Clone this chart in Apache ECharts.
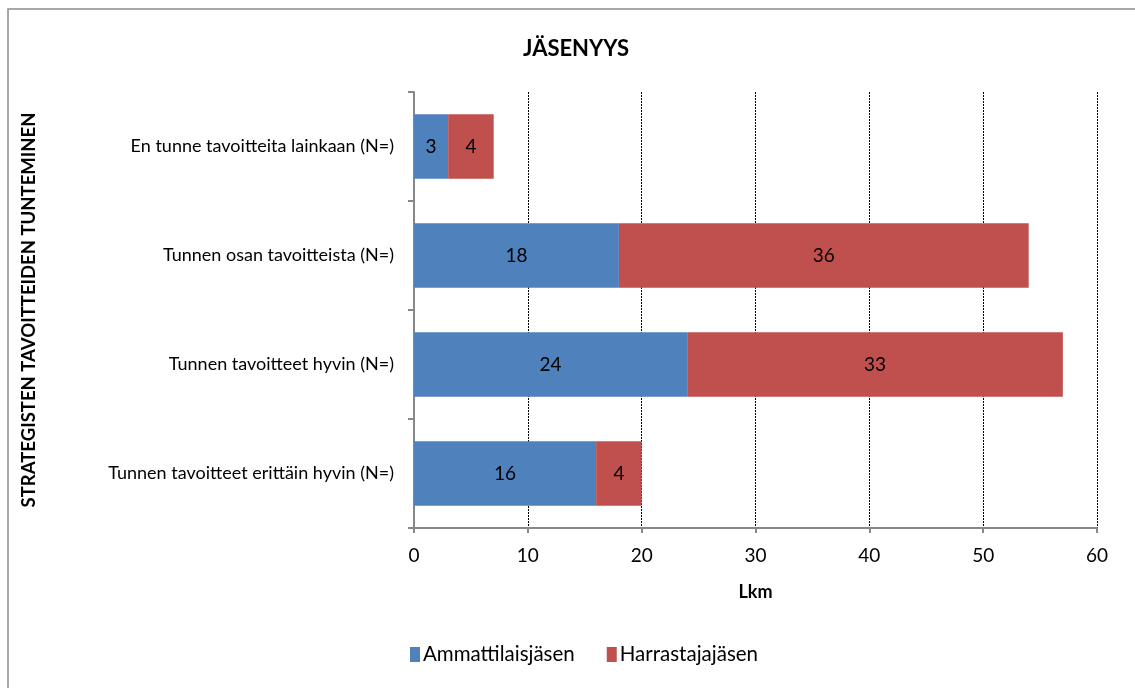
<!DOCTYPE html>
<html><head><meta charset="utf-8">
<script src="https://cdn.jsdelivr.net/npm/echarts@6/dist/echarts.min.js"></script>
<style>html,body{margin:0;padding:0;background:#fff}#c{width:1135px;height:688px}</style>
</head><body><div id="c"></div>
<script>
const categories = ["En tunne tavoitteita lainkaan (N=)", "Tunnen osan tavoitteista (N=)", "Tunnen tavoitteet hyvin (N=)", "Tunnen tavoitteet erittäin hyvin (N=)"];
const ammattilais = [3, 18, 24, 16];
const harrastaja = [4, 36, 33, 4];
const xTicks = [0, 10, 20, 30, 40, 50, 60];

const F = 'Lato, "Open Sans", sans-serif';
const chart = echarts.init(document.getElementById('c'));
chart.setOption({
  animation: false,
  backgroundColor: '#fff',
  textStyle: {fontFamily: F},
  title: {text: 'JÄSENYYS', left: 571, top: 33, textAlign: 'center',
    textStyle: {fontFamily: F, fontSize: 22, fontWeight: 'bold', color: '#000'}},
  graphic: [{type: 'rect', shape: {x: 8, y: 9, width: 1200, height: 800},
    style: {fill: 'none', stroke: '#8c8c8c', lineWidth: 1.5}, z: -1}],
  legend: {bottom: 18, left: 405, itemWidth: 10, itemHeight: 15, itemGap: 32,
    icon: 'rect', textStyle: {fontFamily: F, fontSize: 20.5, color: '#000', padding: [0, 0, 0, -2]},
    data: ['Ammattilaisjäsen', 'Harrastajajäsen']},
  grid: {left: 414, right: 38, top: 92, bottom: 160, containLabel: false},
  xAxis: {type: 'value', min: xTicks[0], max: xTicks[xTicks.length - 1], interval: 10,
    name: 'Lkm', nameLocation: 'middle', nameGap: 55,
    nameTextStyle: {fontFamily: F, fontSize: 18, fontWeight: 'bold', color: '#000'},
    axisLine: {show: true, lineStyle: {color: '#888', width: 2}},
    axisTick: {show: true, length: 5, lineStyle: {color: '#888', width: 2}},
    axisLabel: {fontFamily: F, fontSize: 19, color: '#000', margin: 18},
    splitLine: {show: true, lineStyle: {color: '#000', type: [2, 1], width: 1}}},
  yAxis: {type: 'category', inverse: true, data: categories,
    name: 'STRATEGISTEN TAVOITTEIDEN TUNTEMINEN', nameLocation: 'middle', nameGap: 375, nameRotate: 90,
    nameTextStyle: {fontFamily: F, fontSize: 18.5, fontWeight: 'bold', color: '#000'},
    axisLine: {show: true, lineStyle: {color: '#888', width: 2}},
    axisTick: {show: true, length: 6, alignWithLabel: false, lineStyle: {color: '#888', width: 2}},
    axisLabel: {fontFamily: F, fontSize: 18, color: '#000', margin: 20}},
  series: [
    {name: 'Ammattilaisjäsen', type: 'bar', stack: 's', data: ammattilais, barCategoryGap: '41%',
      itemStyle: {color: '#4f81bd'},
      label: {show: true, position: 'inside', color: '#000', fontFamily: F, fontSize: 19}},
    {name: 'Harrastajajäsen', type: 'bar', stack: 's', data: harrastaja, barCategoryGap: '41%',
      itemStyle: {color: '#c0504d'},
      label: {show: true, position: 'inside', color: '#000', fontFamily: F, fontSize: 19}}
  ]
});
</script></body></html>
